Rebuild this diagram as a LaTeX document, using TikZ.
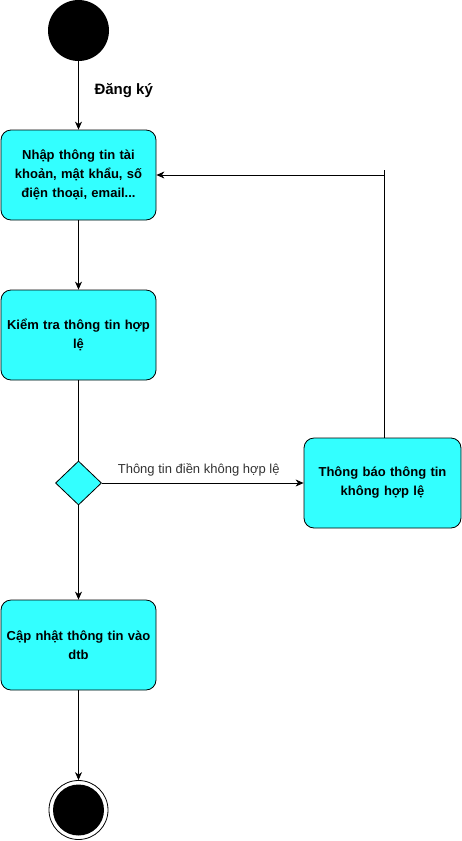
\documentclass[tikz,border=0pt]{standalone}
\usepackage{fontspec}
\setmainfont{Liberation Sans}
\usetikzlibrary{arrows.meta,shapes.geometric}
\definecolor{boxfill}{HTML}{33FFFF}
\begin{document}
\begin{tikzpicture}[x=1pt,y=-1pt,
  act/.style={draw=black,fill=boxfill,rounded corners=10pt,minimum width=155pt,minimum height=90pt,
    text width=150pt,align=center,font=\fontsize{13}{19}\selectfont\bfseries,inner sep=0pt,line width=0.8pt},
  conn/.style={line width=0.8pt},
  arr/.style={conn,-{Stealth[length=8pt,width=7pt,inset=2.5pt]}}]
\useasboundingbox (0,0) rectangle (461,841);
\node[circle,fill=black,minimum size=61pt,inner sep=0pt] (start) at (78.5,30.5) {};
\node[act] (b1) at (78.5,175) {Nhập thông tin tài\\khoản, mật khẩu, số\\điện thoại, email...};
\node[act] (b2) at (78.5,335) {Kiểm tra thông tin hợp\\lệ};
\node[diamond,draw=black,fill=boxfill,minimum width=46pt,minimum height=44pt,inner sep=0pt,line width=0.8pt] (d) at (78.5,483) {};
\node[act,minimum width=157pt,text width=152pt] (b3) at (382.5,483) {Thông báo thông tin\\không hợp lệ};
\node[act] (b4) at (78.5,645) {Cập nhật thông tin vào\\dtb};
\node[circle,draw=black,line width=0.8pt,fill=white,minimum size=59pt,inner sep=0pt] (end) at (78.5,810) {};
\node[circle,fill=black,minimum size=51pt,inner sep=0pt] (endin) at (end.center) {};
\node[font=\fontsize{15}{17}\selectfont\bfseries,anchor=west] (lbl) at (91,91) {Đăng ký};
\draw[arr] (start) -- (b1);
\draw[arr] (b1) -- (b2);
\draw[conn] (b2) -- (d);
\draw[arr] (d) -- (b4);
\draw[arr] (b4) -- (end.north);
\draw[arr] (d.east) -- node[above=3pt,pos=0.48,font=\fontsize{13}{15}\selectfont,text=black!80] (lbl2) {Thông tin điền không hợp lệ} (b3.west);
\coordinate (top) at (384,170);
\coordinate (turn) at (384,175);
\draw[conn] (b3.north -| top) -- (top);
\draw[arr] (turn) -- (b1.east);
\end{tikzpicture}
\end{document}
